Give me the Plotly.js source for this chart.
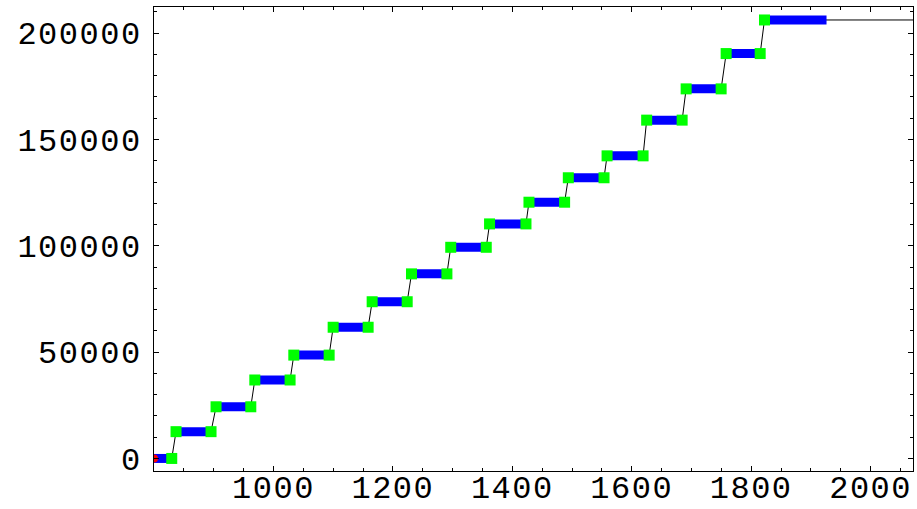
<!DOCTYPE html>
<html>
<head>
<meta charset="utf-8">
<script src="https://cdn.plot.ly/plotly-3.0.1.min.js"></script>
<style>
html,body{margin:0;padding:0;background:#fff;}
#chart{width:917px;height:509px;}
#chart .xtick text, #chart .ytick text{letter-spacing:1.5px;}
</style>
</head>
<body>
<div id="chart"></div>
<script>
// Each plateau: start x, end x and level
const stepStart = [800, 836.9, 903.9, 968.8, 1034.1, 1100, 1165.3, 1231.2, 1296.9, 1361.9, 1427.9, 1493.8, 1558.7, 1625, 1691.1, 1758.1, 1822.3];
const stepEnd   = [829.7, 895.5, 962.1, 1027.9, 1093.3, 1158.6, 1224, 1290.5, 1356.4, 1422.9, 1487.6, 1553.6, 1619, 1684.4, 1749.7, 1815.1, 1926.2];
const levels    = [0, 12600, 24300, 36900, 48600, 61700, 73700, 86800, 99300, 110300, 120500, 132000, 142300, 159100, 173800, 190400, 206200];
const tailX = 2100;          // line continues flat to the right edge
const originX = [800];
const originY = [0];
const xTickVals = [1000, 1200, 1400, 1600, 1800, 2000];
const yTickVals = [0, 50000, 100000, 150000, 200000];

// connecting thin black line
const lineX = [], lineY = [];
for (let i = 0; i < levels.length; i++) {
  lineX.push(stepStart[i], stepEnd[i]);
  lineY.push(levels[i], levels[i]);
}
lineX.push(tailX); lineY.push(levels[levels.length - 1]);

// blue plateaus
const blueX = [], blueY = [];
for (let i = 0; i < levels.length; i++) {
  blueX.push(stepStart[i], stepEnd[i], null);
  blueY.push(levels[i], levels[i], null);
}

// green corner squares
const greenX = [], greenY = [];
for (let i = 0; i < levels.length; i++) {
  if (i > 0) { greenX.push(stepStart[i]); greenY.push(levels[i]); }
  if (i < levels.length - 1) { greenX.push(stepEnd[i]); greenY.push(levels[i]); }
}

const traces = [
  {x: lineX, y: lineY, mode: 'lines', line: {color: '#000', width: 1}, hoverinfo: 'skip'},
  {x: blueX, y: blueY, mode: 'lines', line: {color: '#0000ff', width: 9}, connectgaps: false, hoverinfo: 'skip'},
  {x: greenX, y: greenY, mode: 'markers', marker: {symbol: 'square', size: 11, color: '#00ff00', line: {width: 0}}},
  {x: originX, y: originY, mode: 'markers', marker: {symbol: 'circle', size: 8, color: '#ff0000', line: {width: 0}}}
];

const tickFont = {family: '"Liberation Mono", "DejaVu Sans Mono", monospace', size: 32, color: '#000'};

const layout = {
  width: 917, height: 509,
  margin: {l: 154, r: 4, t: 7, b: 38, pad: 0},
  paper_bgcolor: '#fff', plot_bgcolor: '#fff',
  showlegend: false,
  xaxis: {
    range: [800, 2071], showgrid: false, zeroline: false,
    showline: true, linecolor: '#000', linewidth: 1, mirror: 'ticks',
    ticks: 'inside', ticklen: 5, tickcolor: '#000', tickwidth: 1,
    tickvals: xTickVals, ticktext: xTickVals.map(String),
    tickfont: tickFont, ticklabelstandoff: -12,
    minor: {ticks: 'inside', ticklen: 3, dtick: 50, tick0: 800, tickcolor: '#000', showgrid: false}
  },
  yaxis: {
    range: [-5900, 212300], showgrid: false, zeroline: false,
    showline: true, linecolor: '#000', linewidth: 1, mirror: 'ticks',
    ticks: 'inside', ticklen: 5, tickcolor: '#000', tickwidth: 1,
    tickvals: yTickVals, ticktext: yTickVals.map(String),
    tickfont: tickFont, ticklabelstandoff: 5,
    minor: {ticks: 'inside', ticklen: 3, dtick: 10000, tick0: 0, tickcolor: '#000', showgrid: false}
  }
};

Plotly.newPlot('chart', traces, layout, {displayModeBar: false, staticPlot: true});
</script>
</body>
</html>
